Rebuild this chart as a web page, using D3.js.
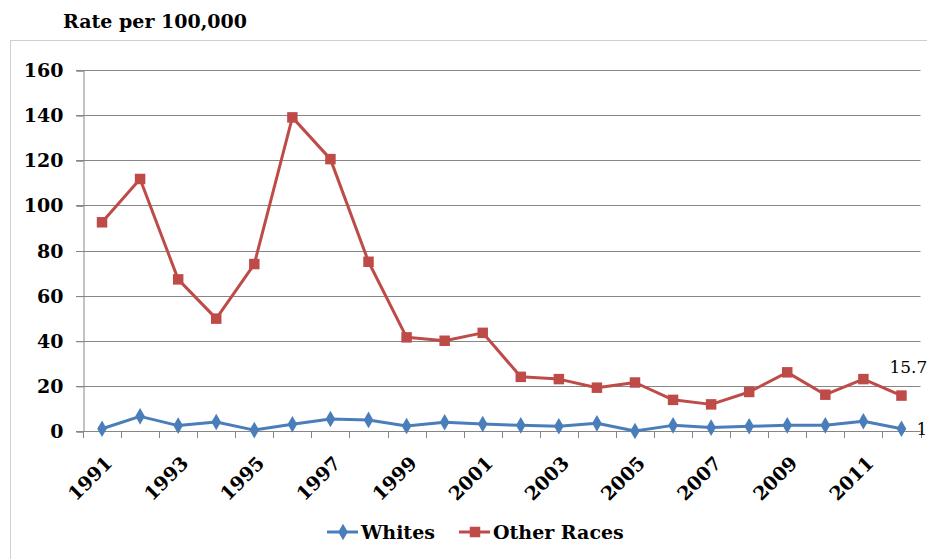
<!DOCTYPE html>
<html>
<head>
<meta charset="utf-8">
<script src="https://cdn.jsdelivr.net/npm/d3@7"></script>
<style>
  body { margin: 0; background: #fff; }
  svg { display: block; font-family: "DejaVu Serif", serif; }
</style>
</head>
<body>
<svg width="927" height="559"></svg>
<script>
// data
const years = d3.range(1991, 2013);
const whites = [1, 6.5, 2.4, 4, 0.4, 3, 5.3, 4.9, 2.2, 3.9, 3.1, 2.5, 2.1, 3.4, 0, 2.5, 1.5, 2.1, 2.5, 2.5, 4.3, 1];
const otherRaces = [92.5, 111.7, 67.2, 49.8, 74, 139, 120.5, 75, 41.5, 40, 43.5, 24, 23, 19.2, 21.5, 13.8, 11.8, 17.3, 26, 16.1, 23, 15.7];
const yTicks = [0, 20, 40, 60, 80, 100, 120, 140, 160];
const xLabels = [1991, 1993, 1995, 1997, 1999, 2001, 2003, 2005, 2007, 2009, 2011];
const seriesNames = ['Whites', 'Other Races'];
const endLabels = ['1', '15.7'];

const svg = d3.select('svg');
const blue = '#4a7ebb';
const red = '#be4b48';
const grey = '#868686';
const fs = 19;

// chart frame
svg.append('rect')
  .attr('x', 10.5).attr('y', 40.5)
  .attr('width', 930).attr('height', 540)
  .attr('fill', 'none')
  .attr('stroke', '#d0d0d0');

svg.append('text')
  .attr('x', 63).attr('y', 28)
  .attr('font-size', fs)
  .attr('font-weight', 'bold')
  .text('Rate per 100,000');

let x = d3.scaleBand()
  .domain(years)
  .range([83, 920.5])
  .padding(0);

let y = d3.scaleLinear()
  .domain([0, 160])
  .range([431, 70]);

let cx = (d) => { return x(d) + x.bandwidth() / 2; };

// gridlines
svg.append('g').selectAll('line')
  .data(yTicks.filter((d) => d > 0))
  .enter().append('line')
  .attr('x1', 76).attr('x2', 920.5)
  .attr('y1', (d) => Math.round(y(d)) + 0.5)
  .attr('y2', (d) => Math.round(y(d)) + 0.5)
  .attr('stroke', grey);

// y axis
let yAxis = svg.append('g')
  .attr('transform', 'translate(83.5,0.5)')
  .call(d3.axisLeft(y).tickValues(yTicks).tickSize(7).tickPadding(13).tickFormat(d3.format('d')));

yAxis.select('.domain').attr('stroke', grey);
yAxis.selectAll('.tick line').attr('stroke', grey);
yAxis.selectAll('.tick text')
  .attr('font-size', fs)
  .attr('font-weight', 'bold')
  .attr('font-family', '"DejaVu Serif", serif')
  .attr('fill', '#000');

// x axis line and ticks at category boundaries
let xg = svg.append('g');
xg.append('line')
  .attr('x1', 76).attr('x2', 920.5)
  .attr('y1', Math.round(y(0)) + 0.5).attr('y2', Math.round(y(0)) + 0.5)
  .attr('stroke', grey);

xg.selectAll('.xt')
  .data(years.concat([2013]))
  .enter().append('line')
  .attr('x1', (d) => Math.round(d === 2013 ? 920.5 : x(d)) + 0.5)
  .attr('x2', (d) => Math.round(d === 2013 ? 920.5 : x(d)) + 0.5)
  .attr('y1', Math.round(y(0)))
  .attr('y2', Math.round(y(0)) + 7)
  .attr('stroke', grey);

xg.selectAll('.xl')
  .data(xLabels)
  .enter().append('text')
  .attr('transform', (d) => `translate(${cx(d) + 2},${y(0) + 24}) rotate(-45)`)
  .attr('text-anchor', 'end')
  .attr('dy', '0.7em')
  .attr('font-size', fs)
  .attr('font-weight', 'bold')
  .text((d) => d);

// lines and markers
let line = d3.line()
  .x((d, i) => cx(years[i]))
  .y((d) => y(d));

svg.append('path')
  .datum(otherRaces)
  .attr('fill', 'none')
  .attr('stroke', red)
  .attr('stroke-width', 3)
  .attr('stroke-linejoin', 'round')
  .attr('d', line);

svg.append('path')
  .datum(whites)
  .attr('fill', 'none')
  .attr('stroke', blue)
  .attr('stroke-width', 3)
  .attr('stroke-linejoin', 'round')
  .attr('d', line);

let square = d3.symbol().type(d3.symbolSquare).size(110);
let diamond = d3.symbol().type(d3.symbolDiamond).size(80);

svg.append('g').selectAll('path')
  .data(otherRaces)
  .enter().append('path')
  .attr('transform', (d, i) => `translate(${cx(years[i])},${y(d)})`)
  .attr('d', square)
  .attr('fill', red);

svg.append('g').selectAll('path')
  .data(whites)
  .enter().append('path')
  .attr('transform', (d, i) => `translate(${cx(years[i])},${y(d)})`)
  .attr('d', diamond)
  .attr('fill', blue);

// end labels
let last = years.length - 1;
svg.append('text')
  .attr('x', cx(years[last]) + 15)
  .attr('y', y(whites[last]) + 6)
  .attr('font-size', 17)
  .text(endLabels[0]);

svg.append('text')
  .attr('x', cx(years[last]) - 12)
  .attr('y', y(otherRaces[last]) - 23)
  .attr('font-size', 17)
  .text(endLabels[1]);

// legend
let legend = svg.append('g');
let legendItems = [
  { name: seriesNames[0], color: blue, sym: diamond, x: 327 },
  { name: seriesNames[1], color: red, sym: square, x: 459 }
];

for (let item of legendItems) {
  let g = legend.append('g').attr('transform', `translate(${item.x},532)`);
  g.append('line')
    .attr('x1', 0).attr('x2', 31)
    .attr('stroke', item.color)
    .attr('stroke-width', 3);
  g.append('path')
    .attr('transform', 'translate(16,0)')
    .attr('d', item.sym)
    .attr('fill', item.color);
  g.append('text')
    .attr('x', 34).attr('y', 7)
    .attr('font-size', fs)
    .attr('font-weight', 'bold')
    .text(item.name);
}
</script>
</body>
</html>
